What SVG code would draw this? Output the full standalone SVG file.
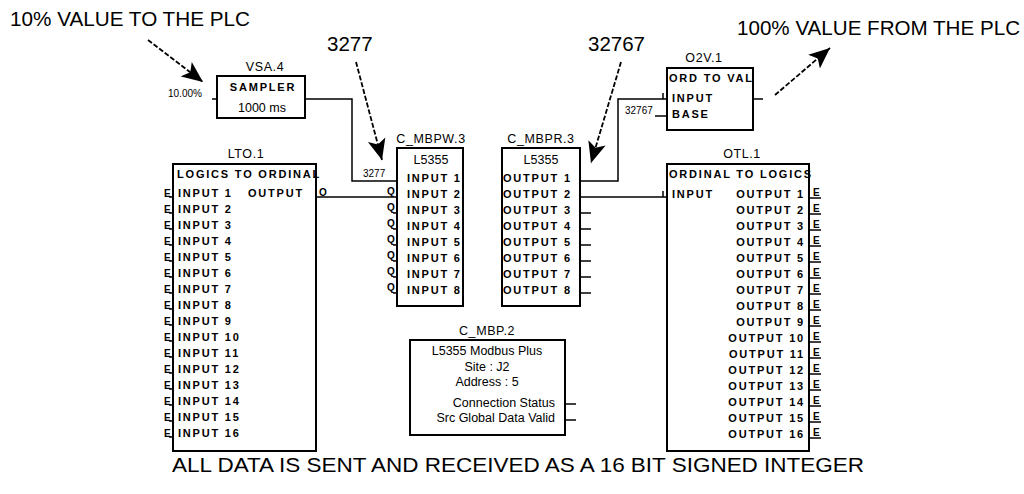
<svg xmlns="http://www.w3.org/2000/svg" width="1024" height="494" viewBox="0 0 1024 494">
<style>
text{font-family:"Liberation Sans",Arial,sans-serif;fill:#000}
.box{fill:#fff;stroke:#000;stroke-width:2}
.w{stroke:#000;stroke-width:1.5;fill:none}
.d{stroke:#000;stroke-width:1.8;fill:none;stroke-dasharray:5 2}
.big{font-size:20.5px}
.ttl{font-size:12.5px;letter-spacing:0.6px}
.b{font-size:11px;font-weight:bold;letter-spacing:1.8px}
.s{font-size:10px}
.sb{font-size:10px;font-weight:bold}
.m{font-size:12.5px}
.c{text-anchor:middle}
.e{text-anchor:end}
</style>
<defs>
<marker id="ah" markerUnits="userSpaceOnUse" markerWidth="22" markerHeight="20" viewBox="0 0 22 20" refX="21" refY="10" orient="auto">
<path d="M0,1 L21,10 L0,19 L5,10 Z" fill="#000"/>
</marker>
</defs>
<rect width="1024" height="494" fill="#fff"/>

<g id="annotations">
<text class="big" x="10" y="26" textLength="240" lengthAdjust="spacingAndGlyphs">10% VALUE TO THE PLC</text>
<text class="big" x="327" y="51" font-size="21">3277</text>
<text class="big" x="588" y="51" font-size="21">32767</text>
<text class="big" x="737" y="35" textLength="283" lengthAdjust="spacingAndGlyphs">100% VALUE FROM THE PLC</text>
<text class="big" x="172" y="472" font-size="21" textLength="692" lengthAdjust="spacingAndGlyphs">ALL DATA IS SENT AND RECEIVED AS A 16 BIT SIGNED INTEGER</text>
<line class="d" x1="148" y1="40" x2="203" y2="82" marker-end="url(#ah)"/>
<line class="d" x1="356" y1="62" x2="382" y2="160" marker-end="url(#ah)"/>
<line class="d" x1="621" y1="62" x2="591" y2="163" marker-end="url(#ah)"/>
<line class="d" x1="775" y1="95" x2="830" y2="48" marker-end="url(#ah)"/>
</g>

<g id="connectors">
<polyline class="w" points="305,99 352,99 352,181 397,181"/>
<line class="w" x1="316" y1="197" x2="397" y2="197"/>
<polyline class="w" points="580,181 618,181 618,99 667,99"/>
<line class="w" x1="580" y1="197" x2="667" y2="197"/>
<line class="w" x1="663" y1="93" x2="663" y2="99"/>
<line class="w" x1="663" y1="191" x2="663" y2="197"/>
</g>

<g id="VSA.4">
<text class="ttl c" x="265" y="71">VSA.4</text>
<rect class="box" x="217" y="76" width="88" height="42"/>
<text class="b c" x="263" y="91" letter-spacing="0.8">SAMPLER</text>
<text class="m c" x="262" y="112" font-size="11.5">1000 ms</text>
<text class="s" x="168" y="97">10.00%</text>
<line class="w" x1="212" y1="99" x2="217" y2="99"/>
</g>

<g id="LTO.1">
<text class="ttl c" x="246" y="158">LTO.1</text>
<rect class="box" x="173" y="164" width="143" height="287"/>
<text class="b" x="177" y="178" letter-spacing="1.4">LOGICS TO ORDINAL</text>
<text class="b" x="248" y="197">OUTPUT</text>
<text class="sb" x="319" y="196">O</text>
<text class="b" x="178" y="197">INPUT 1</text>
<text class="b" x="178" y="213">INPUT 2</text>
<text class="b" x="178" y="229">INPUT 3</text>
<text class="b" x="178" y="245">INPUT 4</text>
<text class="b" x="178" y="261">INPUT 5</text>
<text class="b" x="178" y="277">INPUT 6</text>
<text class="b" x="178" y="293">INPUT 7</text>
<text class="b" x="178" y="309">INPUT 8</text>
<text class="b" x="178" y="325">INPUT 9</text>
<text class="b" x="178" y="341">INPUT 10</text>
<text class="b" x="178" y="357">INPUT 11</text>
<text class="b" x="178" y="373">INPUT 12</text>
<text class="b" x="178" y="389">INPUT 13</text>
<text class="b" x="178" y="405">INPUT 14</text>
<text class="b" x="178" y="421">INPUT 15</text>
<text class="b" x="178" y="437">INPUT 16</text>
<g class="sb">
<text x="164" y="197">E</text><text x="164" y="213">E</text><text x="164" y="229">E</text><text x="164" y="245">E</text>
<text x="164" y="261">E</text><text x="164" y="277">E</text><text x="164" y="293">E</text><text x="164" y="309">E</text>
<text x="164" y="325">E</text><text x="164" y="341">E</text><text x="164" y="357">E</text><text x="164" y="373">E</text>
<text x="164" y="389">E</text><text x="164" y="405">E</text><text x="164" y="421">E</text><text x="164" y="437">E</text>
</g>
<path class="w" d="M169,197H173M169,213H173M169,229H173M169,245H173M169,261H173M169,277H173M169,293H173M169,309H173M169,325H173M169,341H173M169,357H173M169,373H173M169,389H173M169,405H173M169,421H173M169,437H173"/>
</g>

<g id="C_MBPW.3">
<text class="ttl c" x="431" y="143">C_MBPW.3</text>
<rect class="box" x="397" y="148" width="66" height="158"/>
<text class="m c" x="431" y="164">L5355</text>
<text class="b" x="407" y="182">INPUT 1</text>
<text class="b" x="407" y="198">INPUT 2</text>
<text class="b" x="407" y="214">INPUT 3</text>
<text class="b" x="407" y="230">INPUT 4</text>
<text class="b" x="407" y="246">INPUT 5</text>
<text class="b" x="407" y="262">INPUT 6</text>
<text class="b" x="407" y="278">INPUT 7</text>
<text class="b" x="407" y="294">INPUT 8</text>
<text class="s" x="363" y="177">3277</text>
<g class="sb">
<text x="387" y="195">Q</text><text x="387" y="211">Q</text><text x="387" y="227">Q</text><text x="387" y="243">Q</text>
<text x="387" y="259">Q</text><text x="387" y="275">Q</text><text x="387" y="291">Q</text>
</g>
<path class="w" d="M393,213H397M393,229H397M393,245H397M393,261H397M393,277H397M393,293H397"/>
</g>

<g id="C_MBPR.3">
<text class="ttl c" x="541" y="143">C_MBPR.3</text>
<rect class="box" x="502" y="148" width="78" height="158"/>
<text class="m c" x="541" y="164">L5355</text>
<text class="b" x="503" y="182">OUTPUT 1</text>
<text class="b" x="503" y="198">OUTPUT 2</text>
<text class="b" x="503" y="214">OUTPUT 3</text>
<text class="b" x="503" y="230">OUTPUT 4</text>
<text class="b" x="503" y="246">OUTPUT 5</text>
<text class="b" x="503" y="262">OUTPUT 6</text>
<text class="b" x="503" y="278">OUTPUT 7</text>
<text class="b" x="503" y="294">OUTPUT 8</text>
<path class="w" d="M580,213H591M580,229H591M580,245H591M580,261H591M580,277H591M580,293H591"/>
</g>

<g id="O2V.1">
<text class="ttl c" x="704" y="62">O2V.1</text>
<rect class="box" x="667" y="68" width="86" height="62"/>
<text class="b" x="669" y="82" letter-spacing="1.3">ORD TO VAL</text>
<text class="b" x="672" y="102">INPUT</text>
<text class="b" x="672" y="118">BASE</text>
<text class="s" x="625" y="114">32767</text>
<line class="w" x1="655" y1="116" x2="667" y2="116"/>
<line class="w" x1="753" y1="99" x2="763" y2="99"/>
</g>

<g id="OTL.1">
<text class="ttl c" x="742" y="158">OTL.1</text>
<rect class="box" x="667" y="164" width="142" height="287"/>
<text class="b" x="669" y="178" letter-spacing="1.4">ORDINAL TO LOGICS</text>
<text class="b" x="672" y="198">INPUT</text>
<g class="b e">
<text x="805" y="198">OUTPUT 1</text>
<text x="805" y="214">OUTPUT 2</text>
<text x="805" y="230">OUTPUT 3</text>
<text x="805" y="246">OUTPUT 4</text>
<text x="805" y="262">OUTPUT 5</text>
<text x="805" y="278">OUTPUT 6</text>
<text x="805" y="294">OUTPUT 7</text>
<text x="805" y="310">OUTPUT 8</text>
<text x="805" y="326">OUTPUT 9</text>
<text x="805" y="342">OUTPUT 10</text>
<text x="805" y="358">OUTPUT 11</text>
<text x="805" y="374">OUTPUT 12</text>
<text x="805" y="390">OUTPUT 13</text>
<text x="805" y="406">OUTPUT 14</text>
<text x="805" y="422">OUTPUT 15</text>
<text x="805" y="438">OUTPUT 16</text>
</g>
<g class="sb">
<text x="813" y="196">E</text><text x="813" y="212">E</text><text x="813" y="228">E</text><text x="813" y="244">E</text>
<text x="813" y="260">E</text><text x="813" y="276">E</text><text x="813" y="292">E</text><text x="813" y="308">E</text>
<text x="813" y="324">E</text><text x="813" y="340">E</text><text x="813" y="356">E</text><text x="813" y="372">E</text>
<text x="813" y="388">E</text><text x="813" y="404">E</text><text x="813" y="420">E</text><text x="813" y="436">E</text>
</g>
<path class="w" d="M809,198H821M809,214H821M809,230H821M809,246H821M809,262H821M809,278H821M809,294H821M809,310H821M809,326H821M809,342H821M809,358H821M809,374H821M809,390H821M809,406H821M809,422H821M809,438H821"/>
</g>

<g id="C_MBP.2">
<text class="ttl c" x="487" y="335">C_MBP.2</text>
<rect class="box" x="410" y="340" width="155" height="95"/>
<text class="m c" x="487" y="355">L5355 Modbus Plus</text>
<text class="m c" x="487" y="371">Site : J2</text>
<text class="m c" x="487" y="386">Address : 5</text>
<text class="m e" x="555" y="407">Connection Status</text>
<text class="m e" x="555" y="422">Src Global Data Valid</text>
<line class="w" x1="565" y1="404" x2="576" y2="404"/>
<line class="w" x1="565" y1="420" x2="576" y2="420"/>
</g>
</svg>
